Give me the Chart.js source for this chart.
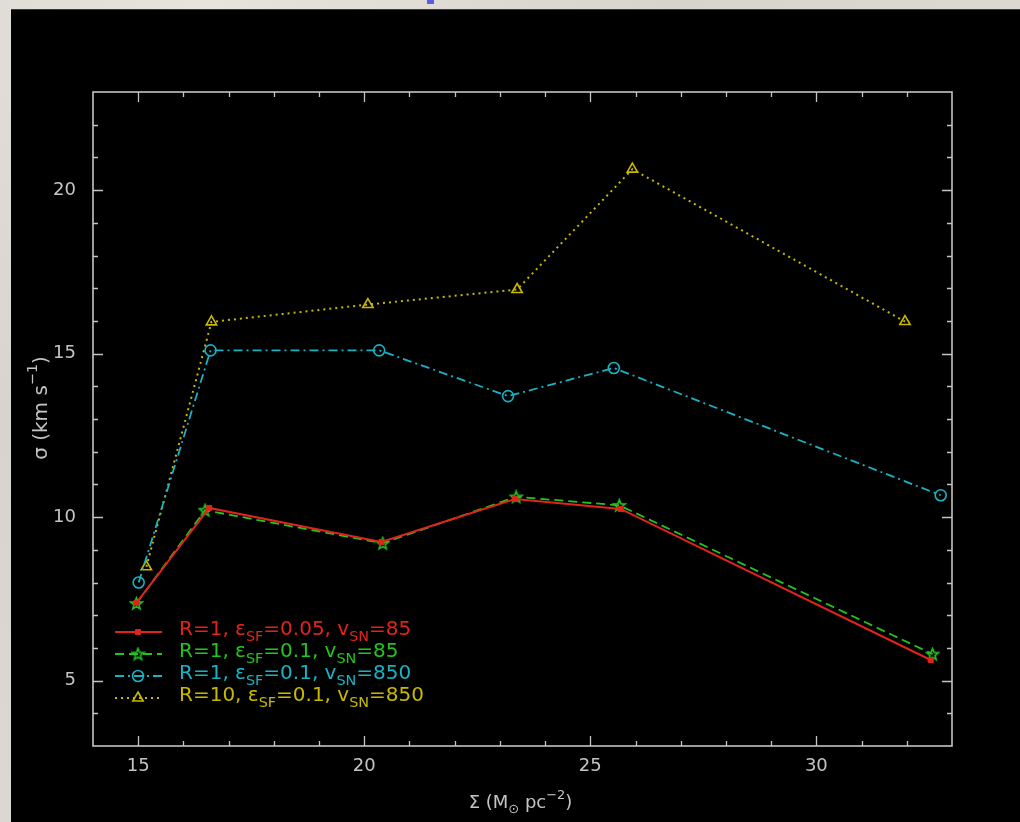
<!DOCTYPE html>
<html><head><meta charset="utf-8">
<script src="https://cdn.jsdelivr.net/npm/chart.js@4.4.1/dist/chart.umd.min.js"></script>
<style>
html,body{margin:0;padding:0;width:1020px;height:822px;overflow:hidden;}
body{background:#dcdad2;background-image:radial-gradient(circle at 20% 0%,#e6e4dc 0,#d6d4cc 40%,#dedcd4 100%);}
#panel{position:absolute;left:11px;top:9px;width:1009px;height:813px;background:#000;border-top:1px solid #3a3a3a;}
#blue{position:absolute;left:427px;top:0;width:7px;height:4px;background:#5c5ce8;}
#wrap{position:absolute;left:0;top:0;width:1020px;height:822px;}
</style></head><body>
<div id="panel"></div><div id="blue"></div>
<div id="wrap"><canvas id="c" width="1020" height="822"></canvas></div>
<script>
// ---- data ----
const redX    = [14.96, 16.57, 20.38, 23.33, 25.67, 32.53];
const redY    = [7.38, 10.28, 9.24, 10.55, 10.25, 5.63];
const greenX  = [14.96, 16.48, 20.41, 23.36, 25.64, 32.57];
const greenY  = [7.36, 10.21, 9.20, 10.62, 10.36, 5.81];
const cyanX   = [15.01, 16.60, 20.33, 23.18, 25.52, 32.75];
const cyanY   = [8.00, 15.10, 15.10, 13.70, 14.56, 10.67];
const yellowX = [15.18, 16.62, 20.08, 23.38, 25.93, 31.96];
const yellowY = [8.48, 15.97, 16.50, 16.96, 20.64, 15.98];

const legendR   = ['1', '1', '1', '10'];
const legendEps = ['0.05', '0.1', '0.1', '0.1'];
const legendV   = ['85', '85', '850', '850'];

const xTickLabels = [15, 20, 25, 30];
const yTickLabels = [5, 10, 15, 20];
const xRange = [14, 33];
const yRange = [3, 23];

const COL_RED = '#e0241c', COL_GREEN = '#22c41e', COL_CYAN = '#19b2c4', COL_YEL = '#c9b800';
const AXIS = '#c4c4c4';

function pts(xs, ys){ return xs.map((x,i)=>({x:x, y:ys[i]})); }

// custom 5-point star marker
function makeStar(color){
  const c = document.createElement('canvas'); c.width = 15; c.height = 15;
  const g = c.getContext('2d'); g.strokeStyle = color; g.lineWidth = 1.6;
  g.beginPath();
  for (let i = 0; i < 10; i++) {
    const r = i % 2 ? 2.6 : 6.2;
    const a = -Math.PI/2 + i*Math.PI/5;
    const px = 7.5 + r*Math.cos(a), py = 8 + r*Math.sin(a);
    i ? g.lineTo(px,py) : g.moveTo(px,py);
  }
  g.closePath(); g.stroke();
  return c;
}
const starImg = makeStar(COL_GREEN);

const datasets = [
  {data: pts(redX, redY), borderColor: COL_RED, borderWidth: 2, borderDash: [],
   pointStyle: 'rect', pointRadius: 3.5, pointBackgroundColor: COL_RED, pointBorderColor: COL_RED, pointBorderWidth: 1},
  {data: pts(greenX, greenY), borderColor: COL_GREEN, borderWidth: 1.8, borderDash: [9,5],
   pointStyle: starImg, pointRadius: 7, pointBackgroundColor: 'transparent', pointBorderColor: COL_GREEN, pointBorderWidth: 1.5},
  {data: pts(cyanX, cyanY), borderColor: COL_CYAN, borderWidth: 1.8, borderDash: [9,4,2,4],
   pointStyle: 'circle', pointRadius: 5.5, pointBackgroundColor: 'transparent', pointBorderColor: COL_CYAN, pointBorderWidth: 1.6},
  {data: pts(yellowX, yellowY), borderColor: COL_YEL, borderWidth: 2, borderDash: [2,4],
   pointStyle: 'triangle', pointRadius: 6, pointBackgroundColor: 'transparent', pointBorderColor: COL_YEL, pointBorderWidth: 1.6}
];

function drawRich(ctx, segs, x, y, size, align){
  const f = (s)=> s + 'px "DejaVu Sans", sans-serif';
  let w = 0;
  segs.forEach(s=>{ ctx.font = f(s.sub||s.sup ? size*0.72 : size); s.w = ctx.measureText(s.t).width; w += s.w; });
  let cx = align === 'center' ? x - w/2 : x;
  segs.forEach(s=>{
    ctx.font = f(s.sub||s.sup ? size*0.72 : size);
    const dy = s.sub ? size*0.35 : (s.sup ? -size*0.42 : 0);
    ctx.fillText(s.t, cx, y + dy); cx += s.w;
  });
}

const framePlugin = {
  id: 'frame',
  afterDatasetsDraw(chart){
    const {ctx, chartArea: a, scales: {x, y}} = chart;
    ctx.save();
    ctx.setLineDash([]);
    ctx.strokeStyle = AXIS; ctx.lineWidth = 1.6;
    ctx.strokeRect(a.left, a.top, a.right - a.left, a.bottom - a.top);
    ctx.lineWidth = 1.3;
    ctx.beginPath();
    for (let v = xRange[0] + 1; v < xRange[1]; v++) {
      const L = xTickLabels.includes(v) ? 10 : 5, px = Math.round(x.getPixelForValue(v)) + 0.5;
      ctx.moveTo(px, a.bottom); ctx.lineTo(px, a.bottom - L);
      ctx.moveTo(px, a.top); ctx.lineTo(px, a.top + L);
    }
    for (let v = yRange[0] + 1; v < yRange[1]; v++) {
      const L = yTickLabels.includes(v) ? 10 : 5, py = Math.round(y.getPixelForValue(v)) + 0.5;
      ctx.moveTo(a.left, py); ctx.lineTo(a.left + L, py);
      ctx.moveTo(a.right, py); ctx.lineTo(a.right - L, py);
    }
    ctx.stroke();

    ctx.fillStyle = AXIS;
    ctx.font = '18px "DejaVu Sans", sans-serif';
    ctx.textBaseline = 'middle';
    ctx.textAlign = 'center';
    xTickLabels.forEach(v => ctx.fillText(String(v), x.getPixelForValue(v), a.bottom + 20));
    ctx.textAlign = 'right';
    yTickLabels.forEach(v => ctx.fillText(String(v), a.left - 17, y.getPixelForValue(v)));

    // axis titles
    ctx.textAlign = 'left';
    drawRich(ctx, [{t:'Σ (M'}, {t:'⊙', sub:true}, {t:' pc'}, {t:'−2', sup:true}, {t:')'}],
             (a.left + a.right)/2 - 2, 803, 18, 'center');
    ctx.save();
    ctx.translate(42, 408); ctx.rotate(-Math.PI/2);
    drawRich(ctx, [{t:'σ (km s'}, {t:'−1', sup:true}, {t:')'}], 0, 0, 20, 'center');
    ctx.restore();

    // legend
    const rows = [632, 654, 676, 698];
    chart.data.datasets.forEach((ds, i) => {
      const ry = rows[i];
      ctx.strokeStyle = ds.borderColor; ctx.lineWidth = ds.borderWidth;
      ctx.setLineDash(ds.borderDash || []);
      ctx.beginPath(); ctx.moveTo(115, ry); ctx.lineTo(162, ry); ctx.stroke();
      ctx.setLineDash([]);
      ctx.fillStyle = ds.pointBackgroundColor; ctx.strokeStyle = ds.pointBorderColor;
      ctx.lineWidth = ds.pointBorderWidth;
      Chart.helpers.drawPoint(ctx, {pointStyle: ds.pointStyle, radius: ds.pointRadius, borderWidth: ds.pointBorderWidth, rotation: 0}, 138, ry);
      ctx.fillStyle = ds.borderColor;
      ctx.textAlign = 'left';
      drawRich(ctx, [{t:'R=' + legendR[i] + ', ε'}, {t:'SF', sub:true}, {t:'=' + legendEps[i] + ', v'}, {t:'SN', sub:true}, {t:'=' + legendV[i]}],
               179, ry - 2, 20, 'left');
    });
    ctx.restore();
  }
};

new Chart(document.getElementById('c'), {
  type: 'line',
  data: {datasets},
  options: {
    responsive: false, animation: false, devicePixelRatio: 1,
    layout: {padding: {left: 93, top: 92, right: 68, bottom: 76}},
    scales: {
      x: {type: 'linear', min: xRange[0], max: xRange[1], display: false},
      y: {type: 'linear', min: yRange[0], max: yRange[1], display: false}
    },
    elements: {line: {tension: 0, fill: false}},
    plugins: {legend: {display: false}, tooltip: {enabled: false}}
  },
  plugins: [framePlugin]
});
</script>
</body></html>
